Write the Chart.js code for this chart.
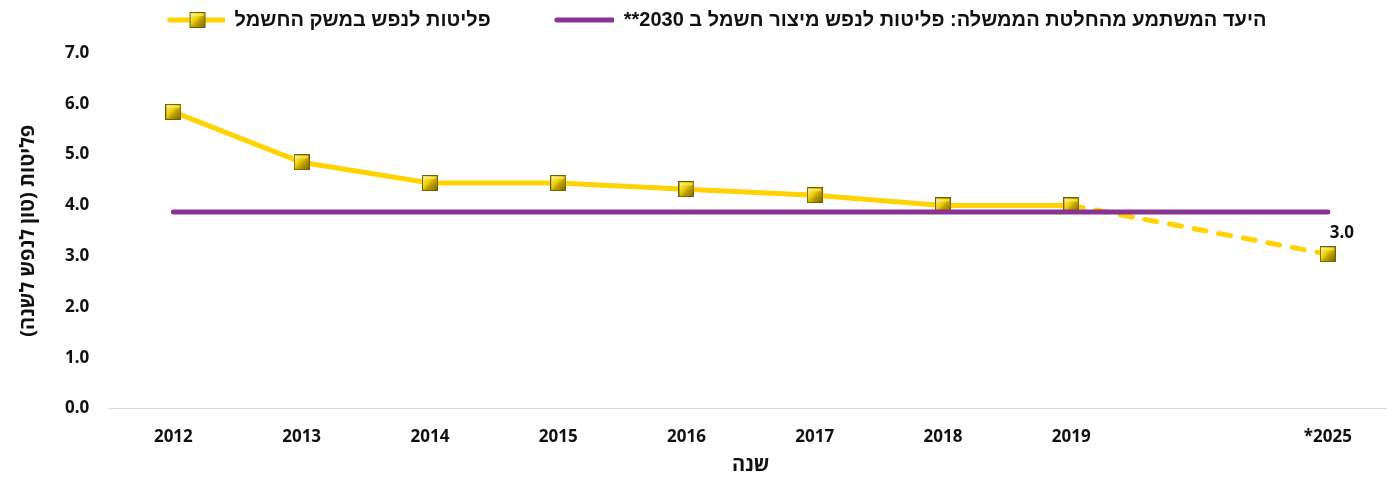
<!DOCTYPE html>
<html>
<head>
<meta charset="utf-8">
<script src="https://cdn.jsdelivr.net/npm/chart.js@4.4.1/dist/chart.umd.min.js"></script>
<style>
  html, body { margin: 0; padding: 0; background: #fff; overflow: hidden; }
  #wrap { width: 1392px; height: 477px; }
  canvas { direction: rtl; }
</style>
</head>
<body>
<div id="wrap"><canvas id="chart"></canvas></div>
<script>
// data
const years = ['2012', '2013', '2014', '2015', '2016', '2017', '2018', '2019', '', '2025*'];
const emissions = [5.84, 4.85, 4.44, 4.44, 4.32, 4.20, 4.00, 4.00, null, 3.04];
const target2030 = [3.87, 3.87, 3.87, 3.87, 3.87, 3.87, 3.87, 3.87, 3.87, 3.87];
const yTicks = [0, 1, 2, 3, 4, 5, 6, 7];
const lastLabel = '3.0';

const seriesNames = {
  emissions: 'פליטות לנפש במשק החשמל',
  target: 'היעד המשתמע מהחלטת הממשלה: פליטות לנפש מיצור חשמל ב 2030**'
};

const YELLOW = '#ffd200';
const PURPLE = '#8a3394';
const TEXT = '#111';
const NUM_FONT = '"Noto Sans", "Open Sans", "DejaVu Sans", sans-serif';

// gold bevelled square marker
function makeMarker(size){
  const c = document.createElement('canvas');
  c.width = size; c.height = size;
  const g = c.getContext('2d');
  g.fillStyle = '#6f6000';
  g.fillRect(0, 0, size, size);
  const grad = g.createLinearGradient(1, 1, size - 1, size - 1);
  grad.addColorStop(0, '#fff38a');
  grad.addColorStop(0.45, '#e8c900');
  grad.addColorStop(0.55, '#c9a800');
  grad.addColorStop(1, '#7d6a00');
  g.fillStyle = grad;
  g.fillRect(1, 1, size - 2, size - 2);
  g.fillStyle = 'rgba(255,240,120,0.6)';
  g.fillRect(2, 2, size - 4, 2);
  return c;
}
const marker = makeMarker(16);

// legend swatches (same width for both, drawn on the right part)
const SW = 113;
function makeSwatch(color, lineLen, withMarker){
  const c = document.createElement('canvas');
  c.width = SW; c.height = 18;
  const g = c.getContext('2d');
  g.strokeStyle = color;
  g.lineWidth = 5;
  g.lineCap = 'round';
  g.beginPath();
  g.moveTo(SW - lineLen + 3, 9);
  g.lineTo(SW, 9);
  g.stroke();
  if (withMarker) g.drawImage(marker, SW - lineLen / 2 - 6, 1);
  return c;
}
const swatchYellow = makeSwatch(YELLOW, 58, true);
const swatchPurple = makeSwatch(PURPLE, 60, false);

// extra room under the legend, and nudge it left a little
const legendGap = {
  id: 'legendGap',
  beforeInit(chart){
    const fit = chart.legend.fit;
    chart.legend.fit = function(){
      fit.call(this);
      this.height += 13;
    };
  },
  afterLayout(chart){
    chart.legend.left -= 7;
    chart.legend.right -= 7;
  }
};

const lastValueLabel = {
  id: 'lastValueLabel',
  afterDatasetsDraw(chart){
    const meta = chart.getDatasetMeta(1);
    const pt = meta.data[emissions.length - 1];
    const ctx = chart.ctx;
    ctx.save();
    ctx.font = 'bold 17px ' + NUM_FONT;
    ctx.fillStyle = TEXT;
    ctx.textAlign = 'center';
    ctx.textBaseline = 'middle';
    ctx.fillText(lastLabel, pt.x + 14, pt.y - 21);
    ctx.restore();
  }
};

new Chart(document.getElementById('chart').getContext('2d'), {
  type: 'line',
  data: {
    labels: years,
    datasets: [
      {
        label: seriesNames.target,
        data: target2030,
        borderColor: PURPLE,
        backgroundColor: PURPLE,
        borderWidth: 5,
        borderCapStyle: 'round',
        pointRadius: 0,
        pointHoverRadius: 0,
        tension: 0,
        clip: false
      },
      {
        label: seriesNames.emissions,
        data: emissions,
        borderColor: YELLOW,
        backgroundColor: YELLOW,
        borderWidth: 5,
        borderCapStyle: 'round',
        pointStyle: marker,
        pointRadius: 8,
        spanGaps: true,
        tension: 0,
        clip: false,
        segment: {
          borderDash: ctx => ctx.p1DataIndex === emissions.length - 1 ? [12, 13] : undefined
        }
      }
    ]
  },
  options: {
    animation: false,
    responsive: true,
    maintainAspectRatio: false,
    layout: { autoPadding: false, padding: { left: 0, right: 0, top: 0, bottom: 0 } },
    plugins: {
      tooltip: { enabled: false },
      legend: {
        display: true,
        position: 'top',
        reverse: true,
        textDirection: 'rtl',
        labels: {
          usePointStyle: true,
          pointStyleWidth: SW,
          padding: 10,
          color: TEXT,
          font: { family: '"Liberation Sans", Arial, sans-serif', size: 20, weight: 'bold' },
          generateLabels(chart){
            const items = Chart.defaults.plugins.legend.labels.generateLabels(chart);
            items.forEach(it => {
              it.pointStyle = it.datasetIndex === 0 ? swatchPurple : swatchYellow;
            });
            return items;
          }
        }
      }
    },
    scales: {
      x: {
        offset: true,
        grid: { display: false, drawTicks: false },
        border: { display: true, color: '#d9d9d9', width: 1 },
        ticks: {
          color: TEXT,
          padding: 18,
          maxRotation: 0,
          autoSkip: false,
          font: { family: NUM_FONT, size: 17, weight: 'bold' }
        },
        title: {
          display: true,
          text: 'שנה',
          color: TEXT,
          padding: { top: -12, bottom: 0 },
          font: { family: NUM_FONT, size: 20, weight: 'bold' }
        }
      },
      y: {
        min: 0,
        max: 7,
        afterBuildTicks(scale){ scale.ticks = yTicks.map(v => ({ value: v })); },
        grid: { display: false, drawTicks: false },
        border: { display: false },
        ticks: {
          color: TEXT,
          padding: 20,
          font: { family: NUM_FONT, size: 17, weight: 'bold' },
          callback: v => Number(v).toFixed(1)
        },
        title: {
          display: true,
          text: 'פליטות (טון לנפש לשנה)',
          color: TEXT,
          padding: { top: 16, bottom: 5 },
          font: { family: NUM_FONT, size: 20, weight: 'bold' }
        }
      }
    }
  },
  plugins: [legendGap, lastValueLabel]
});
</script>
</body>
</html>
